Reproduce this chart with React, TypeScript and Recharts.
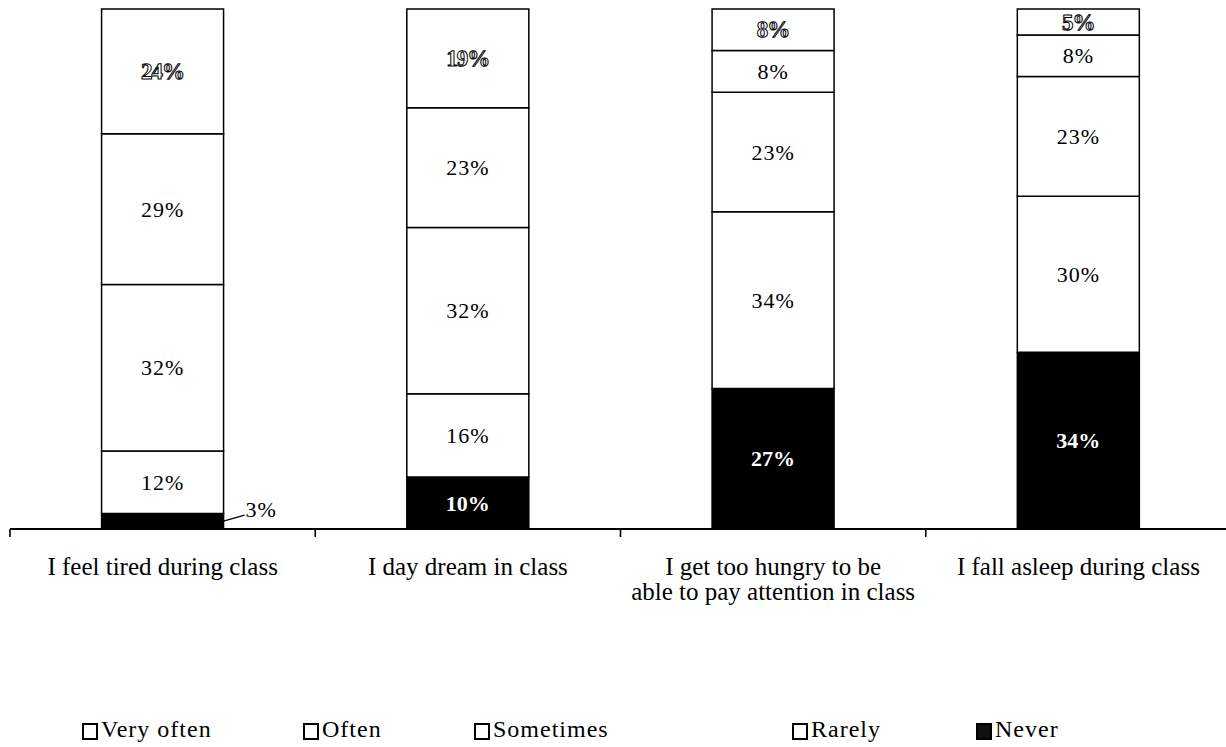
import React from 'react'
import { BarChart, Bar, XAxis, YAxis, LabelList, Legend } from 'recharts'

// categories (line break kept where the original label wraps)
const CATEGORIES = [
  'I feel tired during class',
  'I day dream in class',
  'I get too hungry to be\nable to pay attention in class',
  'I fall asleep during class'
]

// answer shares in %, one array per answer
const NEVER = [3, 10, 27, 34]
const RARELY = [12, 16, 34, 30]
const SOMETIMES = [32, 32, 23, 23]
const OFTEN = [29, 23, 8, 8]
const VERY_OFTEN = [24, 19, 8, 5]

const SERIES_NAMES = ['Never', 'Rarely', 'Sometimes', 'Often', 'Very often']

const FONT = "'Liberation Serif', 'DejaVu Serif', serif"

const data = CATEGORIES.map((name, i) => ({
  name,
  never: NEVER[i],
  rarely: RARELY[i],
  sometimes: SOMETIMES[i],
  often: OFTEN[i],
  veryOften: VERY_OFTEN[i]
}))

// legend item left edges, in page pixels
const LEGEND_X: Record<string, number> = {
  'Very often': 82,
  Often: 303,
  Sometimes: 474,
  Rarely: 792,
  Never: 976
}

type Kind = 'plain' | 'dark' | 'outline'

const makeLabel = (kind: Kind) => (props: any) => {
  const x = Number(props.x)
  const y = Number(props.y)
  const width = Number(props.width)
  const height = Number(props.height)
  const value = props.value
  const cx = x + width / 2
  const cy = y + height / 2

  if (kind === 'dark' && Number(value) < 5) {
    // too thin to hold its label: put it to the right with a leader line
    const x0 = x + width
    return (
      <g>
        <line x1={x0} y1={cy} x2={x0 + 21} y2={cy - 6} stroke="#000" strokeWidth={1.3} />
        <text x={x0 + 22} y={cy - 4} fontFamily={FONT} fontSize={22} letterSpacing={1} fill="#000">
          {value}%
        </text>
      </g>
    )
  }

  if (kind === 'dark') {
    return (
      <text x={cx} y={cy} textAnchor="middle" dominantBaseline="central" fontFamily={FONT}
        fontSize={22} fontWeight="bold" fill="#fff">
        {value}%
      </text>
    )
  }

  if (kind === 'outline') {
    return (
      <text x={cx} y={cy} textAnchor="middle" dominantBaseline="central" fontFamily={FONT}
        fontSize={23} fontWeight="bold" fill="#fff" stroke="#000" strokeWidth={1}
        letterSpacing={-1} style={{ textRendering: 'geometricPrecision' }}>
        {value}%
      </text>
    )
  }

  return (
    <text x={cx} y={cy} textAnchor="middle" dominantBaseline="central" fontFamily={FONT}
      fontSize={22} letterSpacing={1} fill="#000">
      {value}%
    </text>
  )
}

function CategoryTick(props: any) {
  const { x, y, payload, index } = props
  const half = payload && payload.offset ? payload.offset : 152.6
  const lines = String(payload.value).split('\n')
  return (
    <g>
      <line x1={x - half} x2={x - half} y1={y} y2={y + 8} stroke="#000" strokeWidth={1.6} />
      {index === CATEGORIES.length - 1 && (
        <line x1={x + half} x2={x + half} y1={y} y2={y + 8} stroke="#000" strokeWidth={1.6} />
      )}
      <text x={x} y={y + 46} textAnchor="middle" fontFamily={FONT} fontSize={25} fill="#000">
        {lines.map((line, i) => (
          <tspan key={i} x={x} dy={i === 0 ? 0 : 25}>
            {line}
          </tspan>
        ))}
      </text>
    </g>
  )
}

function LegendBox(props: any) {
  const items = [...(props.payload || [])].reverse()
  return (
    <div style={{ position: 'relative', width: 1226, height: 40, fontFamily: FONT }}>
      {items.map((item: any) => {
        const left = LEGEND_X[item.value] ?? 0
        const dark = item.value === 'Never'
        return (
          <div key={item.value} style={{ position: 'absolute', left, top: 0, height: 40 }}>
            <div
              style={{
                position: 'absolute',
                left: 0,
                top: 16,
                width: 12,
                height: 13,
                border: '2px solid #000',
                background: dark ? '#111' : '#fff'
              }}
            />
            <span
              style={{
                position: 'absolute',
                left: 19,
                top: 10,
                fontSize: 24,
                lineHeight: '24px',
                letterSpacing: 1,
                whiteSpace: 'nowrap',
                color: '#000'
              }}
            >
              {item.value}
            </span>
          </div>
        )
      })}
    </div>
  )
}

export default function App() {
  const bars = [
    { key: 'never', fill: '#000', kind: 'dark' as Kind },
    { key: 'rarely', fill: '#fff', kind: 'plain' as Kind },
    { key: 'sometimes', fill: '#fff', kind: 'plain' as Kind },
    { key: 'often', fill: '#fff', kind: 'plain' as Kind },
    { key: 'veryOften', fill: '#fff', kind: 'outline' as Kind }
  ]

  return (
    <div
      style={{
        position: 'absolute',
        left: 0,
        top: 0,
        width: 1226,
        height: 747,
        overflow: 'hidden',
        background: '#fff',
        fontFamily: FONT
      }}
    >
      <BarChart
        width={1240}
        height={747}
        data={data}
        margin={{ top: 9, right: 9, bottom: 0, left: 10 }}
        barCategoryGap="30%"
      >
        <YAxis hide domain={[0, 100]} />
        <XAxis
          dataKey="name"
          height={178}
          interval={0}
          tickSize={0}
          tickMargin={0}
          tickLine={false}
          axisLine={{ stroke: '#000', strokeWidth: 1.8 }}
          tick={<CategoryTick />}
        />
        {bars.map((b, i) => (
          <Bar
            key={b.key}
            dataKey={b.key}
            name={SERIES_NAMES[i]}
            stackId="a"
            fill={b.fill}
            stroke="#000"
            strokeWidth={1.5}
            isAnimationActive={false}
          >
            <LabelList dataKey={b.key} content={makeLabel(b.kind)} />
          </Bar>
        ))}
        <Legend
          verticalAlign="bottom"
          content={<LegendBox />}
          wrapperStyle={{ left: 0, bottom: 0, width: 1226, height: 40 }}
        />
      </BarChart>
    </div>
  )
}
